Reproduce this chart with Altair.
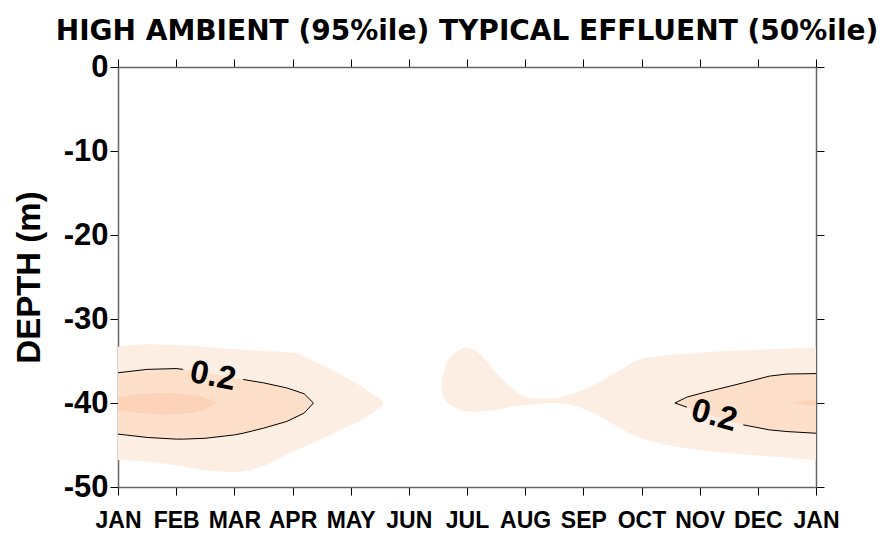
import altair as alt
import pandas as pd

FONT = "Liberation Sans"
TITLE_FONT = "DejaVu Sans"

MONTHS = ["JAN", "FEB", "MAR", "APR", "MAY", "JUN", "JUL",
          "AUG", "SEP", "OCT", "NOV", "DEC", "JAN"]
DEPTH_TICKS = [0, -10, -20, -30, -40, -50]

# Lightest band: winter blob on the left edge
OUT_L_X = [0, 0.5, 1.0, 1.5, 2.0, 2.5, 3.0, 3.4, 3.8, 4.2, 4.56]
OUT_L_TOP = [-33.3, -33.0, -33.1, -33.3, -33.6, -33.8, -34.0, -35.1, -36.5, -38.1, -39.8]
OUT_L_BOT = [-46.8, -47.0, -47.4, -48.0, -48.2, -47.5, -45.8, -44.6, -43.3, -42.0, -40.2]

# Lightest band: summer plume joined to the late-year blob
OUT_R_X = [5.565, 5.65, 5.82, 5.99, 6.19, 6.51, 6.80, 7.08, 7.43, 7.77, 8.17,
           8.63, 8.92, 9.20, 9.78, 10.92, 12.0]
OUT_R_TOP = [-37.3, -35.3, -33.9, -33.4, -34.0, -36.5, -38.4, -39.4, -39.5, -39.0, -37.9,
             -36.1, -34.9, -34.5, -34.1, -33.7, -33.4]
OUT_R_BOT = [-38.8, -39.8, -40.6, -41.0, -41.0, -40.8, -40.4, -40.2, -40.0, -40.2, -41.2,
             -43.0, -44.0, -44.6, -45.4, -46.2, -46.8]

# 0.2 contour band, left
MID_L_X = [0, 0.5, 1.0, 1.12, 1.5, 2.0, 2.15, 2.5, 2.9, 3.2, 3.36]
MID_L_TOP = [-36.4, -36.0, -35.9, -36.0, -36.4, -37.0, -37.2, -37.6, -38.2, -38.9, -40.0]
MID_L_BOT = [-43.7, -44.1, -44.3, -44.3, -44.2, -43.8, -43.6, -43.0, -42.2, -41.2, -40.0]

# 0.2 contour band, right
MID_R_X = [9.575, 9.78, 10.1, 10.4, 10.75, 11.2, 11.5, 12.0]
MID_R_TOP = [-40.0, -39.3, -38.7, -38.2, -37.6, -36.8, -36.55, -36.5]
MID_R_BOT = [-40.0, -40.5, -41.2, -41.9, -42.6, -43.2, -43.4, -43.6]

# Core band
CORE_L_X = [0, 0.4, 0.8, 1.2, 1.5, 1.7]
CORE_L_TOP = [-39.4, -38.9, -38.8, -39.0, -39.4, -40.0]
CORE_L_BOT = [-40.8, -41.2, -41.4, -41.2, -40.7, -40.0]
CORE_R_X = [11.55, 11.8, 12.0]
CORE_R_TOP = [-40.0, -39.75, -39.6]
CORE_R_BOT = [-40.0, -40.25, -40.4]

# Contour labels
LABEL_TEXT = ["0.2", "0.2"]
LABEL_X = [1.63, 10.25]
LABEL_Y = [-36.8, -41.5]
LABEL_ANGLE = [11, 15]

C_OUT = "#FDEEE3"
C_MID = "#FDDFCA"
C_CORE = "#FCD3B9"


def band(xs, tops, bots, name):
    return pd.DataFrame({"m": xs, "top": tops, "bot": bots, "blob": name})


outer = pd.concat([band(OUT_L_X, OUT_L_TOP, OUT_L_BOT, "a"),
                   band(OUT_R_X, OUT_R_TOP, OUT_R_BOT, "b")])
mid = pd.concat([band(MID_L_X, MID_L_TOP, MID_L_BOT, "a"),
                 band(MID_R_X, MID_R_TOP, MID_R_BOT, "b")])
core = pd.concat([band(CORE_L_X, CORE_L_TOP, CORE_L_BOT, "a"),
                  band(CORE_R_X, CORE_R_TOP, CORE_R_BOT, "b")])

# Contour line paths, broken where the labels sit
rows = []


def add_path(seg, pts):
    for i, (x, y) in enumerate(pts):
        rows.append({"seg": seg, "i": i, "m": x, "d": y})


add_path("L1", [(MID_L_X[k], MID_L_TOP[k]) for k in range(0, 4)])
add_path("L2", [(MID_L_X[k], MID_L_TOP[k]) for k in range(6, 11)]
         + [(MID_L_X[k], MID_L_BOT[k]) for k in range(9, -1, -1)])
add_path("R1", [(MID_R_X[1], MID_R_BOT[1])]
         + [(MID_R_X[k], MID_R_TOP[k]) for k in range(0, 8)])
add_path("R2", [(MID_R_X[k], MID_R_BOT[k]) for k in range(4, 8)])
contour = pd.DataFrame(rows)

labels = pd.DataFrame({"t": LABEL_TEXT, "m": LABEL_X, "d": LABEL_Y, "a": LABEL_ANGLE})

month_expr = "[" + ",".join(f"'{s}'" for s in MONTHS) + "][datum.value]"
xscale = alt.Scale(domain=[0, 12], nice=False, zero=False)
yscale = alt.Scale(domain=[-50, 0], nice=False, zero=False)

x_bottom = alt.Axis(orient="bottom", values=list(range(13)), labelExpr=month_expr,
                    title=None, labelFontSize=23, labelPadding=14, labelFlush=False,
                    labelOverlap=False)
y_left = alt.Axis(orient="left", values=DEPTH_TICKS,
                  labelExpr="datum.value == 0 ? '0' : '-' + abs(datum.value)",
                  title="DEPTH (m)", titleFontSize=33, titlePadding=17,
                  labelFontSize=31, labelPadding=2)
x_top = alt.Axis(orient="top", values=list(range(13)), labels=False, title=None)
y_right = alt.Axis(orient="right", values=DEPTH_TICKS, labels=False, title=None)

outer_layer = alt.Chart(outer).mark_area(color=C_OUT, interpolate="monotone").encode(
    x=alt.X("m:Q", scale=xscale, axis=x_bottom),
    y=alt.Y("top:Q", scale=yscale, axis=y_left),
    y2="bot:Q",
    detail="blob:N",
)
mid_layer = alt.Chart(mid).mark_area(color=C_MID).encode(
    x=alt.X("m:Q", scale=xscale, axis=x_top),
    y=alt.Y("top:Q", scale=yscale, axis=y_right),
    y2="bot:Q",
    detail="blob:N",
)
core_layer = alt.Chart(core).mark_area(color=C_CORE, interpolate="monotone").encode(
    x=alt.X("m:Q", scale=xscale, axis=None),
    y=alt.Y("top:Q", scale=yscale, axis=None),
    y2="bot:Q",
    detail="blob:N",
)
line_layer = alt.Chart(contour).mark_line(color="black", strokeWidth=1).encode(
    x=alt.X("m:Q", scale=xscale, axis=None),
    y=alt.Y("d:Q", scale=yscale, axis=None),
    detail="seg:N",
    order="i:Q",
)
text_layer = alt.Chart(labels).mark_text(
    font=FONT, fontWeight="bold", fontSize=33, color="black"
).encode(
    x=alt.X("m:Q", scale=xscale, axis=None),
    y=alt.Y("d:Q", scale=yscale, axis=None),
    text="t:N",
    angle=alt.Angle("a:Q", scale=None),
)

chart = alt.layer(outer_layer, mid_layer, core_layer, line_layer, text_layer).resolve_axis(
    x="independent", y="independent"
).properties(
    width=698,
    height=420,
    title=alt.Title("HIGH AMBIENT (95%ile) TYPICAL EFFLUENT (50%ile)",
                    font=TITLE_FONT, fontSize=28, fontWeight="bold", anchor="middle",
                    offset=5, color="black"),
    autosize=alt.AutoSizeParams(type="none"),
    padding={"left": 118, "top": 67, "right": 79, "bottom": 49},
    background="white",
).configure_view(stroke=None).configure_axis(
    grid=False, domainColor="#666666", domainWidth=1.5, tickColor="black",
    tickSize=8, tickWidth=1, labelFont=FONT, labelFontWeight="bold",
    labelColor="black", titleFont=FONT, titleFontWeight="bold", titleColor="black",
)

chart.save("out.html", embed_options={"renderer": "svg", "actions": False})
